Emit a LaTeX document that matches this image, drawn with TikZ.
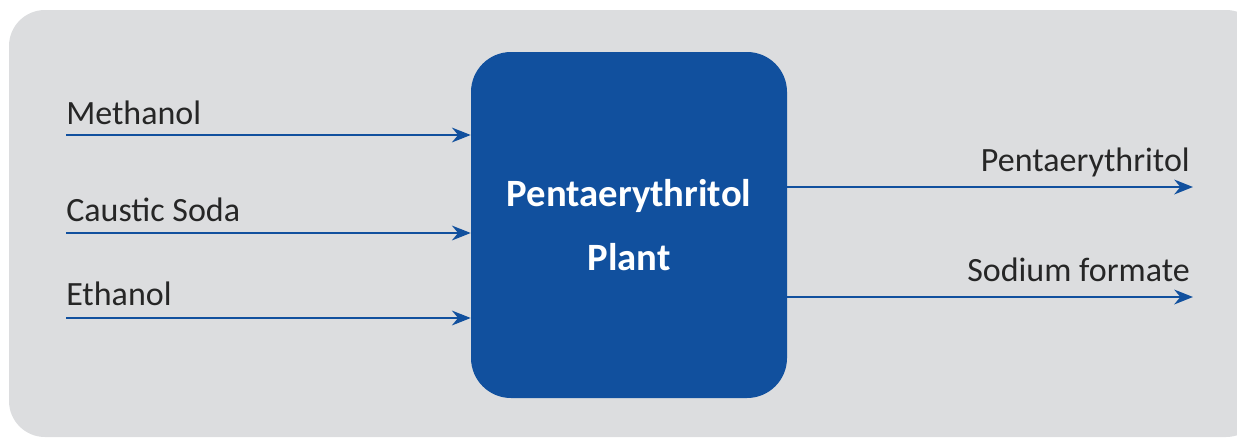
\documentclass[tikz,border=0pt]{standalone}
\usepackage{fontspec}
\setmainfont{Carlito}
\usetikzlibrary{arrows.meta,positioning}

\definecolor{panelgray}{HTML}{DCDDDF}
\definecolor{plantblue}{HTML}{11509E}

\begin{document}
\begin{tikzpicture}[x=0.75pt,y=-0.75pt,
    flow/.style={-{Stealth[length=14pt,width=11pt,inset=4.5pt]},draw=plantblue,line width=2.1pt},
    stream label/.style={font=\fontsize{25.5}{30}\selectfont,text=black!85,inner sep=0pt},
    plant node/.style={fill=plantblue,rounded corners=30pt,minimum width=237pt,minimum height=259.5pt,
      text=white,align=center,font=\fontsize{29}{44}\selectfont\bfseries,inner sep=0pt}]

  \useasboundingbox (0,0) rectangle (1237,439);
  \fill[panelgray,rounded corners=27pt] (9,10) rectangle (1262,437);

  \node[plant node] (plant) at (629,225) {Pentaerythritol\\[4pt]Plant};

  % feeds
  \coordinate (in1) at (66,135);
  \coordinate (in2) at (66,233);
  \coordinate (in3) at (66,318);
  \node[stream label,anchor=base west] (methanol) at (66,124) {Methanol};
  \node[stream label,anchor=base west] (soda) at (66,221) {Caustic Soda};
  \node[stream label,anchor=base west] (ethanol) at (66,305) {Ethanol};
  \draw[flow] (in1) -- (in1 -| plant.west);
  \draw[flow] (in2) -- (in2 -| plant.west);
  \draw[flow] (in3) -- (in3 -| plant.west);

  % products
  \coordinate (out1) at (1193,187);
  \coordinate (out2) at (1193,297);
  \node[stream label,anchor=base east] (penta) at (1190,171) {Pentaerythritol};
  \node[stream label,anchor=base east] (formate) at (1190,281) {Sodium formate};
  \draw[flow] (out1 -| plant.east) -- (out1);
  \draw[flow] (out2 -| plant.east) -- (out2);

\end{tikzpicture}
\end{document}
